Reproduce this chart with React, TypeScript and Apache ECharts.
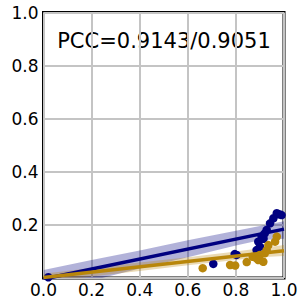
import React, { useEffect, useRef } from "react";
import * as echarts from "echarts";

const navyPoints: [number, number][] = [
  [0.02, 0.003], [0.706, 0.053], [0.795, 0.09], [0.803, 0.087], [0.886, 0.105],
  [0.893, 0.137], [0.9, 0.118], [0.907, 0.156], [0.915, 0.148], [0.92, 0.168],
  [0.928, 0.181], [0.942, 0.206], [0.956, 0.225], [0.97, 0.244], [0.98, 0.24],
  [0.99, 0.237],
];
const goldPoints: [number, number][] = [
  [0.662, 0.037], [0.776, 0.049], [0.797, 0.047], [0.845, 0.06], [0.87, 0.08],
  [0.886, 0.074], [0.893, 0.068], [0.9, 0.087], [0.914, 0.061], [0.92, 0.093],
  [0.928, 0.105], [0.935, 0.124], [0.963, 0.137], [0.97, 0.156],
];
const navyFit: [number, number][] = [[0, -0.004], [1, 0.184]];
const goldFit: [number, number][] = [[0, 0.002], [1, 0.103]];
const bandX = [0, 0.2, 0.4, 0.6, 0.8, 0.9, 1.0];
const navyLower = [-0.04, -0.01, 0.036, 0.078, 0.122, 0.142, 0.148];
const navyUpper = [0.03, 0.068, 0.104, 0.142, 0.178, 0.196, 0.214];
const goldLower = [-0.014, 0.006, 0.026, 0.048, 0.068, 0.078, 0.083];
const goldUpper = [0.016, 0.038, 0.058, 0.078, 0.1, 0.112, 0.124];
const annotation = "PCC=0.9143/0.9051";

const NAVY = "#000080";
const GOLD = "#b8860b";

function bandSeries(lower: number[], upper: number[], fill: string) {
  return {
    type: "custom",
    silent: true,
    data: bandX.map((x, i) => [x, lower[i], upper[i]]),
    renderItem: (params: any, api: any) => {
      if (params.dataIndex !== 0) return null;
      const top = bandX.map((x, i) => api.coord([x, upper[i]]));
      const bottom = bandX.map((x, i) => api.coord([x, lower[i]])).reverse();
      const cs = params.coordSys;
      return {
        type: "group",
        clipPath: { type: "rect", shape: { x: cs.x, y: cs.y, width: cs.width, height: cs.height } },
        children: [
          {
            type: "polygon",
            shape: { points: top.concat(bottom) },
            style: { fill, stroke: "none" },
          },
        ],
      };
    },
  };
}

export default function App() {
  const ref = useRef<HTMLDivElement>(null);
  useEffect(() => {
    if (!ref.current) return;
    const chart = echarts.init(ref.current, null, { renderer: "svg" });
    const font = "DejaVu Sans";
    chart.setOption({
      animation: false,
      backgroundColor: "#ffffff",
      grid: {
        left: 43.5, right: 21, top: 12.5, bottom: 27,
        show: true, borderColor: "#000", borderWidth: 3, backgroundColor: "transparent",
      },
      xAxis: {
        type: "value", min: 0, max: 1, interval: 0.2,
        axisLine: { show: false }, axisTick: { show: false },
        splitLine: { show: true, lineStyle: { color: "#c4c4c4", width: 2 } },
        axisLabel: {
          color: "#000", fontSize: 17, fontFamily: font, margin: 3,
          formatter: (v: number) => v.toFixed(1),
          showMaxLabel: true, showMinLabel: true,
        },
      },
      yAxis: {
        type: "value", min: 0, max: 1, interval: 0.2,
        axisLine: { show: false }, axisTick: { show: false },
        splitLine: { show: true, lineStyle: { color: "#c4c4c4", width: 2 } },
        axisLabel: {
          color: "#000", fontSize: 17, fontFamily: font, margin: 5,
          formatter: (v: number) => (v === 0 ? "" : v.toFixed(1)),
        },
      },
      graphic: [
        {
          type: "text", x: 164, y: 41,
          style: {
            text: annotation, fontSize: 21, fontFamily: font, fill: "#000",
            textAlign: "center", textVerticalAlign: "middle",
          },
        },
      ],
      series: [
        { type: "scatter", data: navyPoints, symbolSize: 8.5, itemStyle: { color: NAVY, opacity: 1 }, clip: true },
        { type: "line", data: navyFit, showSymbol: false, lineStyle: { color: NAVY, width: 3.5 }, clip: true },
        bandSeries(navyLower, navyUpper, "rgba(0,0,128,0.3)"),
        { type: "scatter", data: goldPoints, symbolSize: 8.5, itemStyle: { color: GOLD, opacity: 1 }, clip: true },
        { type: "line", data: goldFit, showSymbol: false, lineStyle: { color: GOLD, width: 3.5 }, clip: true },
        bandSeries(goldLower, goldUpper, "rgba(184,134,11,0.3)"),
      ],
    });
    return () => chart.dispose();
  }, []);
  return (
    <div
      ref={ref}
      style={{ position: "fixed", left: 0, top: 0, width: 305, height: 305 }}
    />
  );
}
